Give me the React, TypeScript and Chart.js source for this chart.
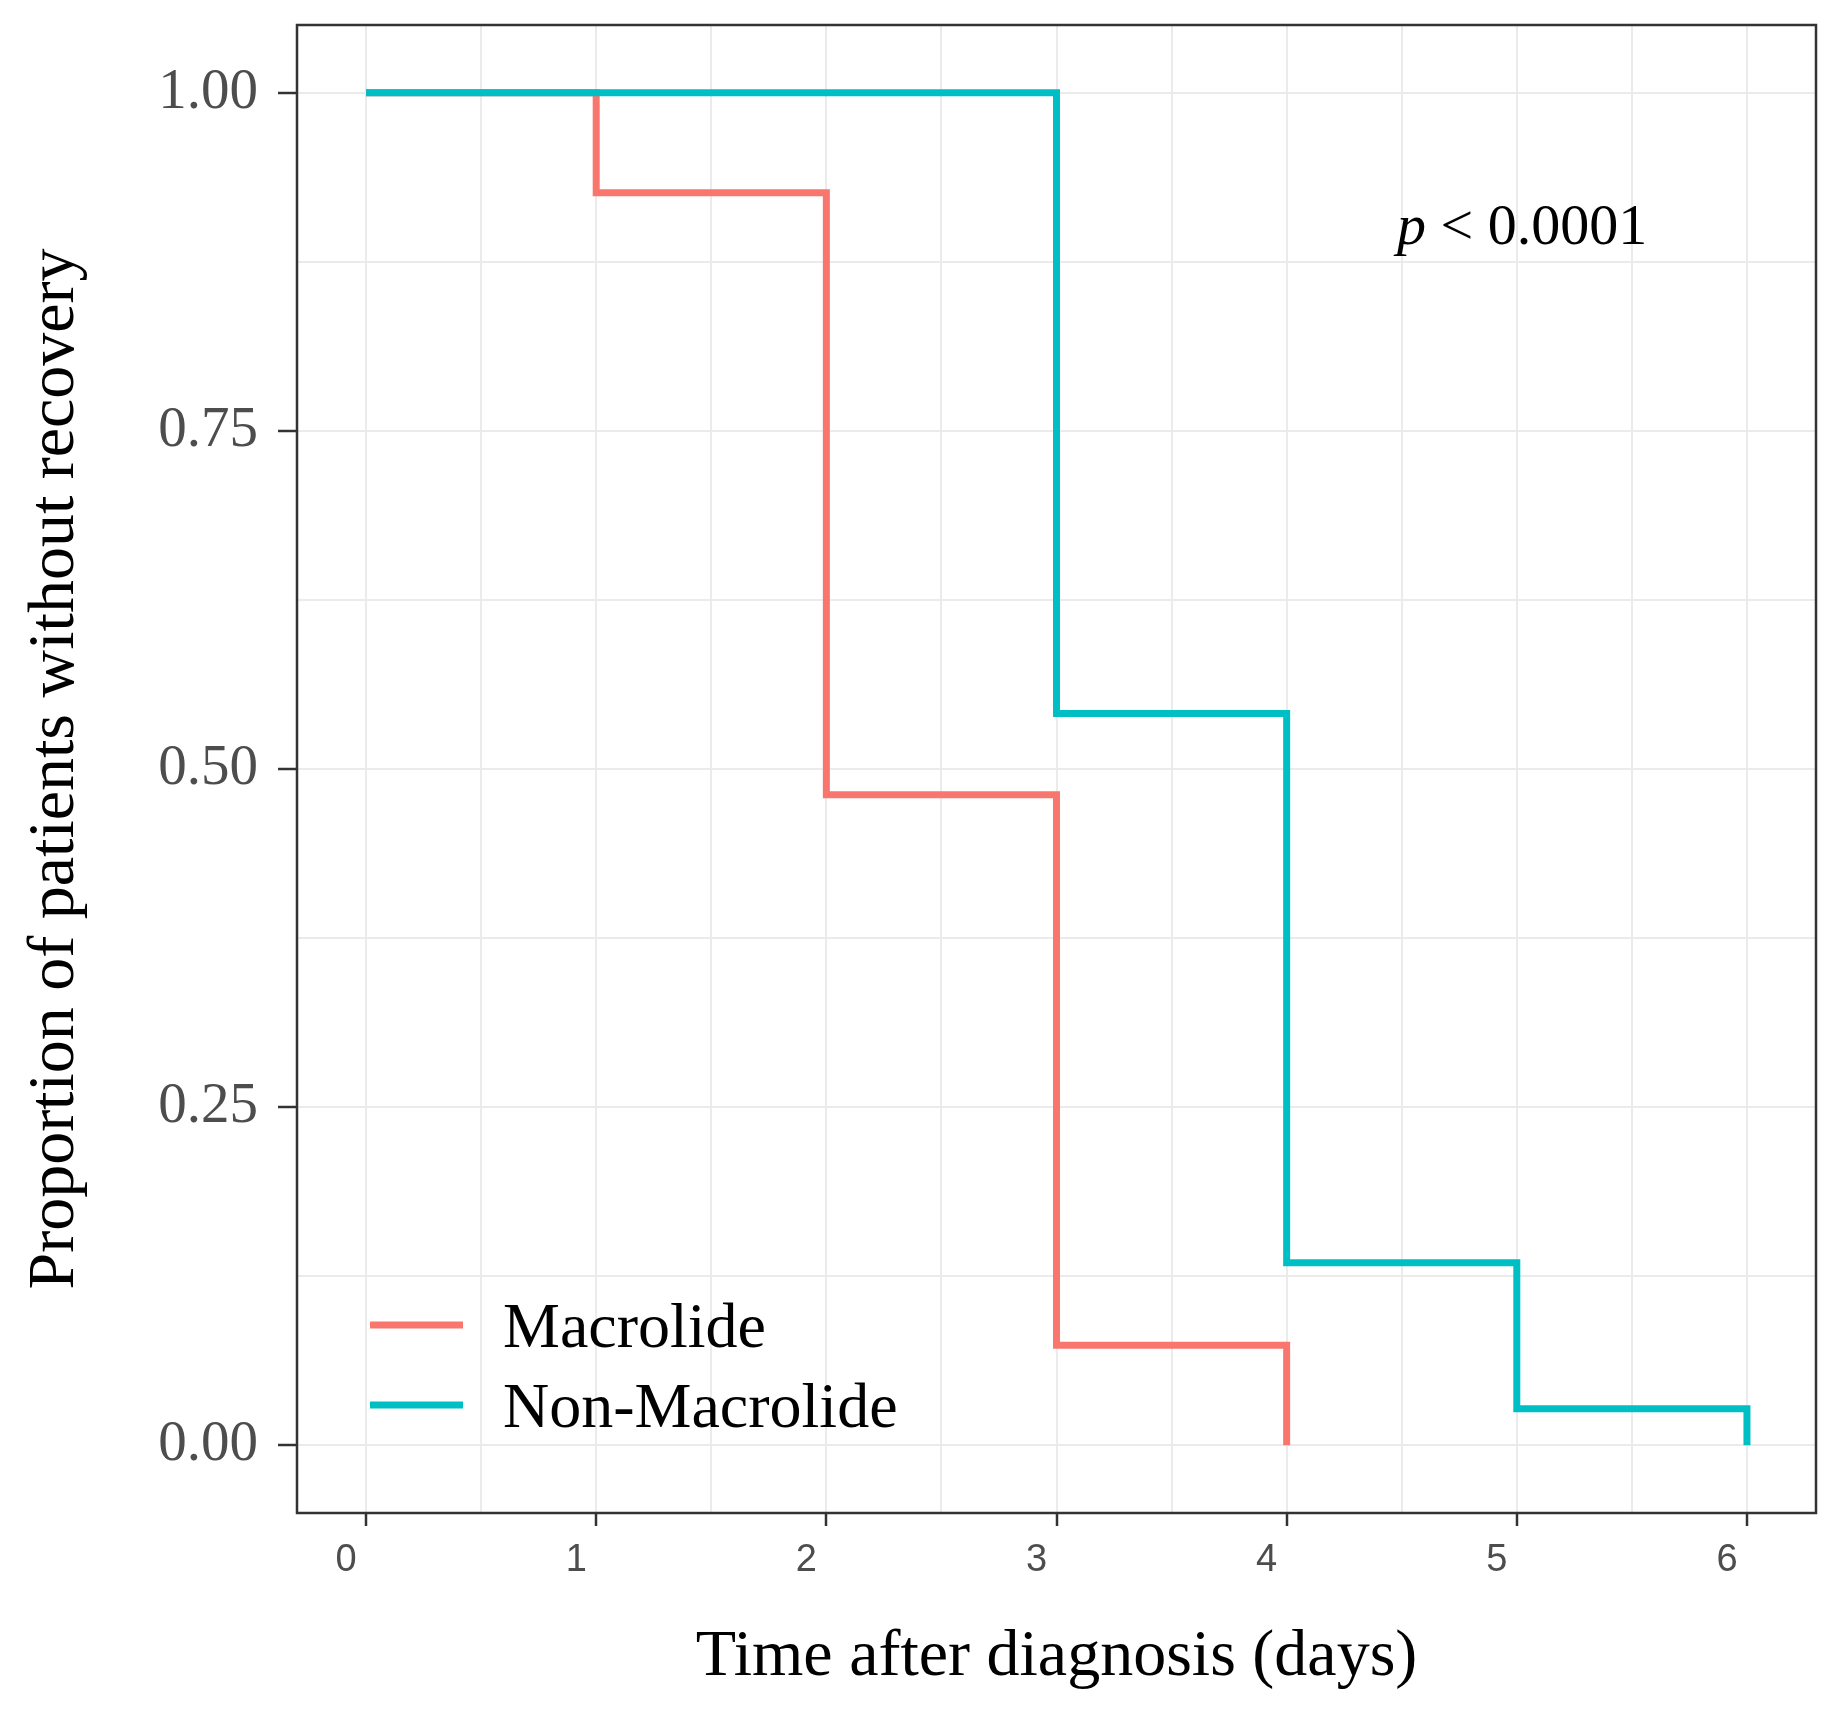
import { useEffect, useRef } from "react"
import { Chart, registerables } from "chart.js"

Chart.register(...registerables)

// Kaplan-Meier steps
const seriesNames = ["Macrolide", "Non-Macrolide"]
const seriesColors = ["#F8766D", "#00BFC4"]
const macrolideTimes = [0, 1, 2, 3, 4]
const macrolideSurvival = [1, 0.926, 0.481, 0.074, 0]
const nonMacrolideTimes = [0, 3, 4, 5, 6]
const nonMacrolideSurvival = [1, 0.541, 0.135, 0.027, 0]

// grid positions (major + minor) and labelled ticks
const xGridValues = [0, 0.5, 1, 1.5, 2, 2.5, 3, 3.5, 4, 4.5, 5, 5.5, 6]
const xLabelValues = [0, 1, 2, 3, 4, 5, 6]
const yGridValues = [0, 0.125, 0.25, 0.375, 0.5, 0.625, 0.75, 0.875, 1]
const yLabelValues = [0, 0.25, 0.5, 0.75, 1]

const xTitle = "Time after diagnosis (days)"
const yTitle = "Proportion of patients without recovery"
const pValueText = "< 0.0001"

const SERIF = '"Liberation Serif", "Times New Roman", serif'
const SANS = '"Liberation Sans", Arial, sans-serif'

const isLabelled = (list: number[], v: number) => list.some((l) => Math.abs(l - v) < 1e-9)

const overlayPlugin = {
  id: "kmOverlay",
  afterDatasetsDraw(chart: Chart) {
    const { ctx, chartArea, scales } = chart
    ctx.save()

    // panel border (theme_bw)
    ctx.strokeStyle = "#333333"
    ctx.lineWidth = 2.5
    ctx.strokeRect(chartArea.left, chartArea.top, chartArea.right - chartArea.left, chartArea.bottom - chartArea.top)

    // legend inside the panel, bottom left
    chart.data.datasets.forEach((ds: any, i: number) => {
      const y = chartArea.bottom - 188 + i * 80
      ctx.strokeStyle = ds.borderColor
      ctx.lineWidth = 7
      ctx.beginPath()
      ctx.moveTo(chartArea.left + 73, y)
      ctx.lineTo(chartArea.left + 166, y)
      ctx.stroke()
      ctx.fillStyle = "#000000"
      ctx.font = `64px ${SERIF}`
      ctx.textAlign = "left"
      ctx.textBaseline = "alphabetic"
      ctx.fillText(ds.label, chartArea.left + 206, y + 22)
    })

    // p-value annotation
    const px = scales.x.getPixelForValue(4.48)
    const py = scales.y.getPixelForValue(0.888)
    ctx.fillStyle = "#000000"
    ctx.font = `italic 58px ${SERIF}`
    ctx.fillText("p", px, py)
    const pw = ctx.measureText("p").width
    ctx.font = `58px ${SERIF}`
    ctx.fillText(" " + pValueText, px + pw, py)

    ctx.restore()
  },
}

export default function App() {
  const chartRef = useRef<HTMLCanvasElement>(null)
  const chartInstance = useRef<Chart | null>(null)

  useEffect(() => {
    if (!chartRef.current) return
    if (chartInstance.current) chartInstance.current.destroy()
    const ctx = chartRef.current.getContext("2d")
    if (!ctx) return

    chartInstance.current = new Chart(ctx, {
      type: "line",
      data: {
        datasets: [
          {
            label: seriesNames[0],
            data: macrolideTimes.map((t, i) => ({ x: t, y: macrolideSurvival[i] })),
            borderColor: seriesColors[0],
            borderWidth: 7,
            stepped: "before",
            pointRadius: 0,
            fill: false,
            order: 1,
          },
          {
            label: seriesNames[1],
            data: nonMacrolideTimes.map((t, i) => ({ x: t, y: nonMacrolideSurvival[i] })),
            borderColor: seriesColors[1],
            borderWidth: 7,
            stepped: "before",
            pointRadius: 0,
            fill: false,
            order: 0,
          },
        ],
      },
      options: {
        animation: false,
        responsive: true,
        maintainAspectRatio: false,
        devicePixelRatio: 1,
        layout: { padding: { left: 8, right: 28, top: 25, bottom: 0 } },
        plugins: {
          legend: { display: false },
          tooltip: { enabled: false },
        },
        scales: {
          x: {
            type: "linear",
            min: -0.3,
            max: 6.3,
            afterBuildTicks: (scale: any) => {
              scale.ticks = xGridValues.map((v) => ({ value: v }))
            },
            afterFit: (scale: any) => {
              scale.height = 202
              scale.paddingLeft = 0
              scale.paddingRight = 0
            },
            border: { display: false },
            grid: {
              color: "#EBEBEB",
              lineWidth: 2,
              tickLength: 13,
              tickWidth: 2.5,
              tickColor: (c: any) => (c.tick && isLabelled(xLabelValues, c.tick.value) ? "#333333" : "rgba(0,0,0,0)"),
            },
            ticks: {
              autoSkip: false,
              maxRotation: 0,
              padding: 12,
              labelOffset: -20,
              color: "#4D4D4D",
              font: { family: SANS, size: 38 },
              callback: (v: any) => (isLabelled(xLabelValues, Number(v)) ? String(v) : ""),
            },
            title: {
              display: true,
              text: xTitle,
              color: "#000000",
              font: { family: SERIF, size: 66 },
              padding: { top: 0, bottom: 18 },
            },
          },
          y: {
            type: "linear",
            min: -0.05,
            max: 1.05,
            afterBuildTicks: (scale: any) => {
              scale.ticks = yGridValues.map((v) => ({ value: v }))
            },
            afterFit: (scale: any) => {
              scale.width = 289
              scale.paddingTop = 0
              scale.paddingBottom = 0
            },
            border: { display: false },
            grid: {
              color: "#EBEBEB",
              lineWidth: 2,
              tickLength: 19,
              tickWidth: 2.5,
              tickColor: (c: any) => (c.tick && isLabelled(yLabelValues, c.tick.value) ? "#333333" : "rgba(0,0,0,0)"),
            },
            ticks: {
              autoSkip: false,
              padding: 20,
              color: "#4D4D4D",
              font: { family: SERIF, size: 57 },
              callback: (v: any) => (isLabelled(yLabelValues, Number(v)) ? Number(v).toFixed(2) : ""),
            },
            title: {
              display: true,
              text: yTitle,
              color: "#000000",
              font: { family: SERIF, size: 66 },
              padding: { top: 8, bottom: 0 },
            },
          },
        },
      },
      plugins: [overlayPlugin],
    })

    return () => {
      if (chartInstance.current) {
        chartInstance.current.destroy()
        chartInstance.current = null
      }
    }
  }, [])

  return (
    <div style={{ position: "absolute", left: 0, top: 0, width: 1844, height: 1715, background: "#ffffff" }}>
      <canvas ref={chartRef}></canvas>
    </div>
  )
}
